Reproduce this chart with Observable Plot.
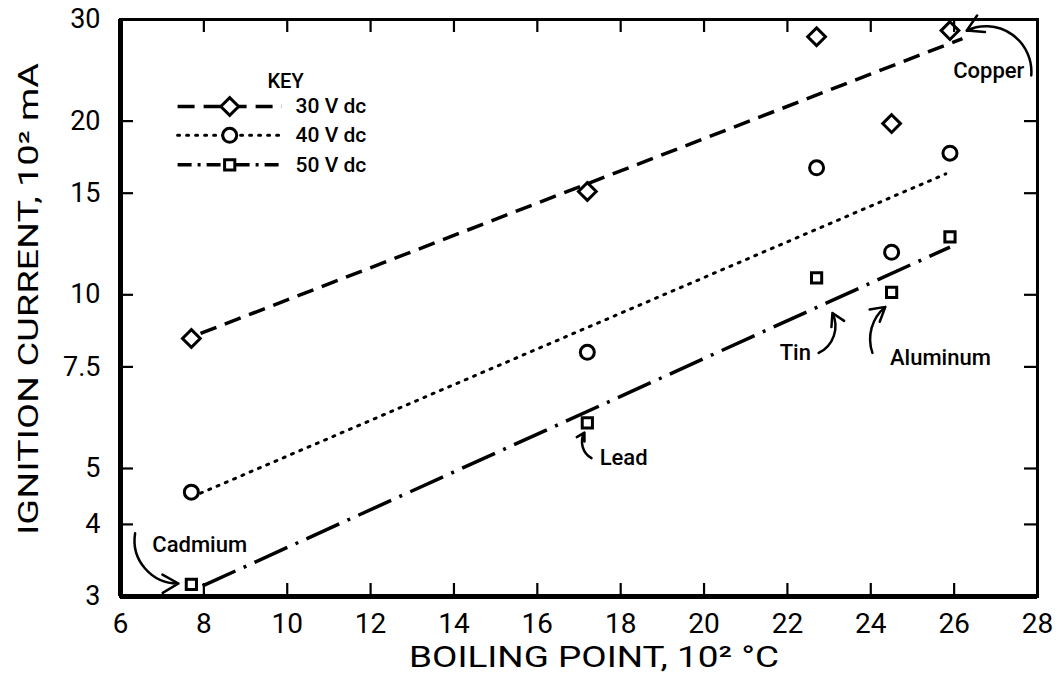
<!DOCTYPE html>
<html><head><meta charset="utf-8">
<script src="https://cdn.jsdelivr.net/npm/d3@7"></script>
<script src="https://cdn.jsdelivr.net/npm/@observablehq/plot@0.6"></script>
<style>body{margin:0;background:#fff} svg{font-family:Roboto,"DejaVu Sans",sans-serif}</style>
</head><body><div id="chart"></div>
<script>
// Boiling point (10^2 °C) of the electrode metals
const boilingPoint = [7.7, 17.2, 22.7, 24.5, 25.9];
const metals = ["Cadmium", "Lead", "Tin", "Aluminum", "Copper"];
// Ignition current (10^2 mA)
const current30 = [8.4, 15.1, 28.0, 19.8, 28.7];
const current40 = [4.55, 7.95, 16.6, 11.85, 17.6];
const current50 = [3.15, 6.0, 10.7, 10.1, 12.6];
// fitted lines (end points)
const fit30x = [7.92, 26.2], fit30y = [8.57, 27.8];
const fit40x = [7.92, 25.8], fit40y = [4.53, 16.2];
const fit50x = [7.97, 25.9], fit50y = [3.13, 12.1];

const seriesNames = ["30 V dc", "40 V dc", "50 V dc"];
const seriesSymbols = ["diamond2", "circle", "square2"];
const seriesR = [8, 7, 6.5];
const seriesDash = ["17,9", "2,7", "36,9,3,9"];

const xTicks = [6, 8, 10, 12, 14, 16, 18, 20, 22, 24, 26, 28];
const yTicks = [3, 4, 5, 7.5, 10, 15, 20, 30];
const yTickLabels = ["3", "4", "5", "7.5", "10", "15", "20", "30"];
const xTitle = "BOILING POINT, 10² °C";
const yTitle = "IGNITION CURRENT, 10² mA";

// legend (placed in data space)
const legendTitle = "KEY";
const legendTitleX = 9.96, legendTitleY = 23.4;
const legendY = [21.2, 18.9, 16.8];
const legendLineX = [7.37, 9.87];
const legendMarkX = 8.62;
const legendLabelX = 10.2;

// annotations
const noteText = ["Copper", "Tin", "Aluminum", "Lead", "Cadmium"];
const noteX = [26.83, 22.19, 25.67, 18.07, 7.9];
const noteY = [24.4, 7.93, 7.77, 5.21, 3.69];
const arrowX1 = [27.85, 22.75, 24.04, 17.3, 6.35];
const arrowY1 = [24.0, 7.93, 7.93, 5.21, 3.86];
const arrowX2 = [26.3, 23.08, 24.35, 17.13, 7.39];
const arrowY2 = [28.7, 9.3, 9.53, 5.77, 3.16];
const arrowBend = [-60, -45, 35, 45, -50];

const values = [current30, current40, current50];
const fits = [[fit30x, fit30y], [fit40x, fit40y], [fit50x, fit50y]];

const W = 1062, H = 694;
const mL = 120, mR = 25, mT = 19, mB = 98;
const innerH = H - mT - mB, innerW = W - mL - mR;
const tick = 13;

const marks = [];
// fitted lines
fits.forEach(([fx, fy], i) => {
  marks.push(Plot.line(fx.map((x, j) => ({x, y: fy[j]})), {
    x: "x", y: "y", stroke: "black", strokeWidth: i === 1 ? 3 : 3.5,
    strokeDasharray: seriesDash[i], strokeLinecap: i === 1 ? "round" : "butt"
  }));
});
// data points
values.forEach((vals, i) => {
  marks.push(Plot.dot(boilingPoint.map((x, j) => ({x, y: vals[j], metal: metals[j]})), {
    x: "x", y: "y", symbol: seriesSymbols[i], r: seriesR[i],
    stroke: "black", strokeWidth: 3, fill: "white"
  }));
});
// legend
marks.push(Plot.text([legendTitle], {x: legendTitleX, y: legendTitleY, fontSize: 20, fontWeight: 500, fill: "black"}));
seriesNames.forEach((name, i) => {
  marks.push(Plot.link([name], {
    x1: legendLineX[0], x2: legendLineX[1], y1: legendY[i], y2: legendY[i],
    stroke: "black", strokeWidth: i === 1 ? 3 : 3.5,
    strokeDasharray: i === 2 ? "14,6,3,6" : seriesDash[i], strokeLinecap: i === 1 ? "round" : "butt"
  }));
  marks.push(Plot.dot([name], {x: legendMarkX, y: legendY[i], symbol: seriesSymbols[i], r: seriesR[i], stroke: "black", strokeWidth: 3, fill: "white"}));
  marks.push(Plot.text([name], {x: legendLabelX, y: legendY[i], text: d => d, textAnchor: "start", fontSize: 21, fontWeight: 500, fill: "black"}));
});
// annotations
const notes = noteText.map((t, i) => ({t, x: noteX[i], y: noteY[i], x1: arrowX1[i], y1: arrowY1[i], x2: arrowX2[i], y2: arrowY2[i], bend: arrowBend[i]}));
notes.forEach(n => {
  marks.push(Plot.arrow([n], {x1: "x1", y1: "y1", x2: "x2", y2: "y2", bend: n.bend, headLength: 11, strokeWidth: 2.5, stroke: "black"}));
});
marks.push(Plot.text(notes, {x: "x", y: "y", text: "t", fontSize: 22, fontWeight: 500, fill: "black"}));

// ticks inward on all four sides
marks.push(Plot.ruleX(xTicks, {insetTop: innerH - tick, strokeWidth: 2.2}));
marks.push(Plot.ruleX(xTicks, {insetBottom: innerH - tick, strokeWidth: 2.2}));
marks.push(Plot.ruleY(yTicks, {insetRight: innerW - tick, strokeWidth: 2.2}));
marks.push(Plot.ruleY(yTicks, {insetLeft: innerW - tick, strokeWidth: 2.2}));
// frame
marks.push(Plot.frame({stroke: "black", strokeWidth: 3}));
marks.push(Plot.ruleX([6], {strokeWidth: 5}));
marks.push(Plot.ruleY([3], {strokeWidth: 5}));
// axes labels
marks.push(Plot.axisX(xTicks, {anchor: "bottom", tickSize: 0, tickPadding: 17, fontSize: 28, label: null, tickFormat: d => String(d)}));
marks.push(Plot.axisY(yTicks, {anchor: "left", tickSize: 0, tickPadding: 20, fontSize: 27, label: null, tickFormat: d => yTickLabels[yTicks.indexOf(d)]}));
marks.push(Plot.text([xTitle], {frameAnchor: "bottom", dy: 70, dx: 15, fontSize: 30, fill: "black"}));
marks.push(Plot.text([yTitle], {frameAnchor: "left", rotate: -90, textAnchor: "start", dx: -91, dy: 227, fontSize: 27, fill: "black"}));

const chart = Plot.plot({
  width: W, height: H,
  marginLeft: mL, marginRight: mR, marginTop: mT, marginBottom: mB,
  x: {domain: [6, 28], axis: null},
  y: {type: "log", domain: [3, 30], axis: null},
  style: {fontFamily: "Roboto, 'DejaVu Sans', sans-serif", color: "black", background: "white"},
  marks
});
// fit the axis titles to the reference's lengths
d3.select(chart).selectAll("text").filter(function () { return this.textContent === yTitle; })
  .attr("textLength", 472).attr("lengthAdjust", "spacingAndGlyphs");
d3.select(chart).selectAll("text").filter(function () { return this.textContent === xTitle; })
  .attr("textLength", 370).attr("lengthAdjust", "spacingAndGlyphs");
document.getElementById("chart").appendChild(chart);
</script></body></html>
